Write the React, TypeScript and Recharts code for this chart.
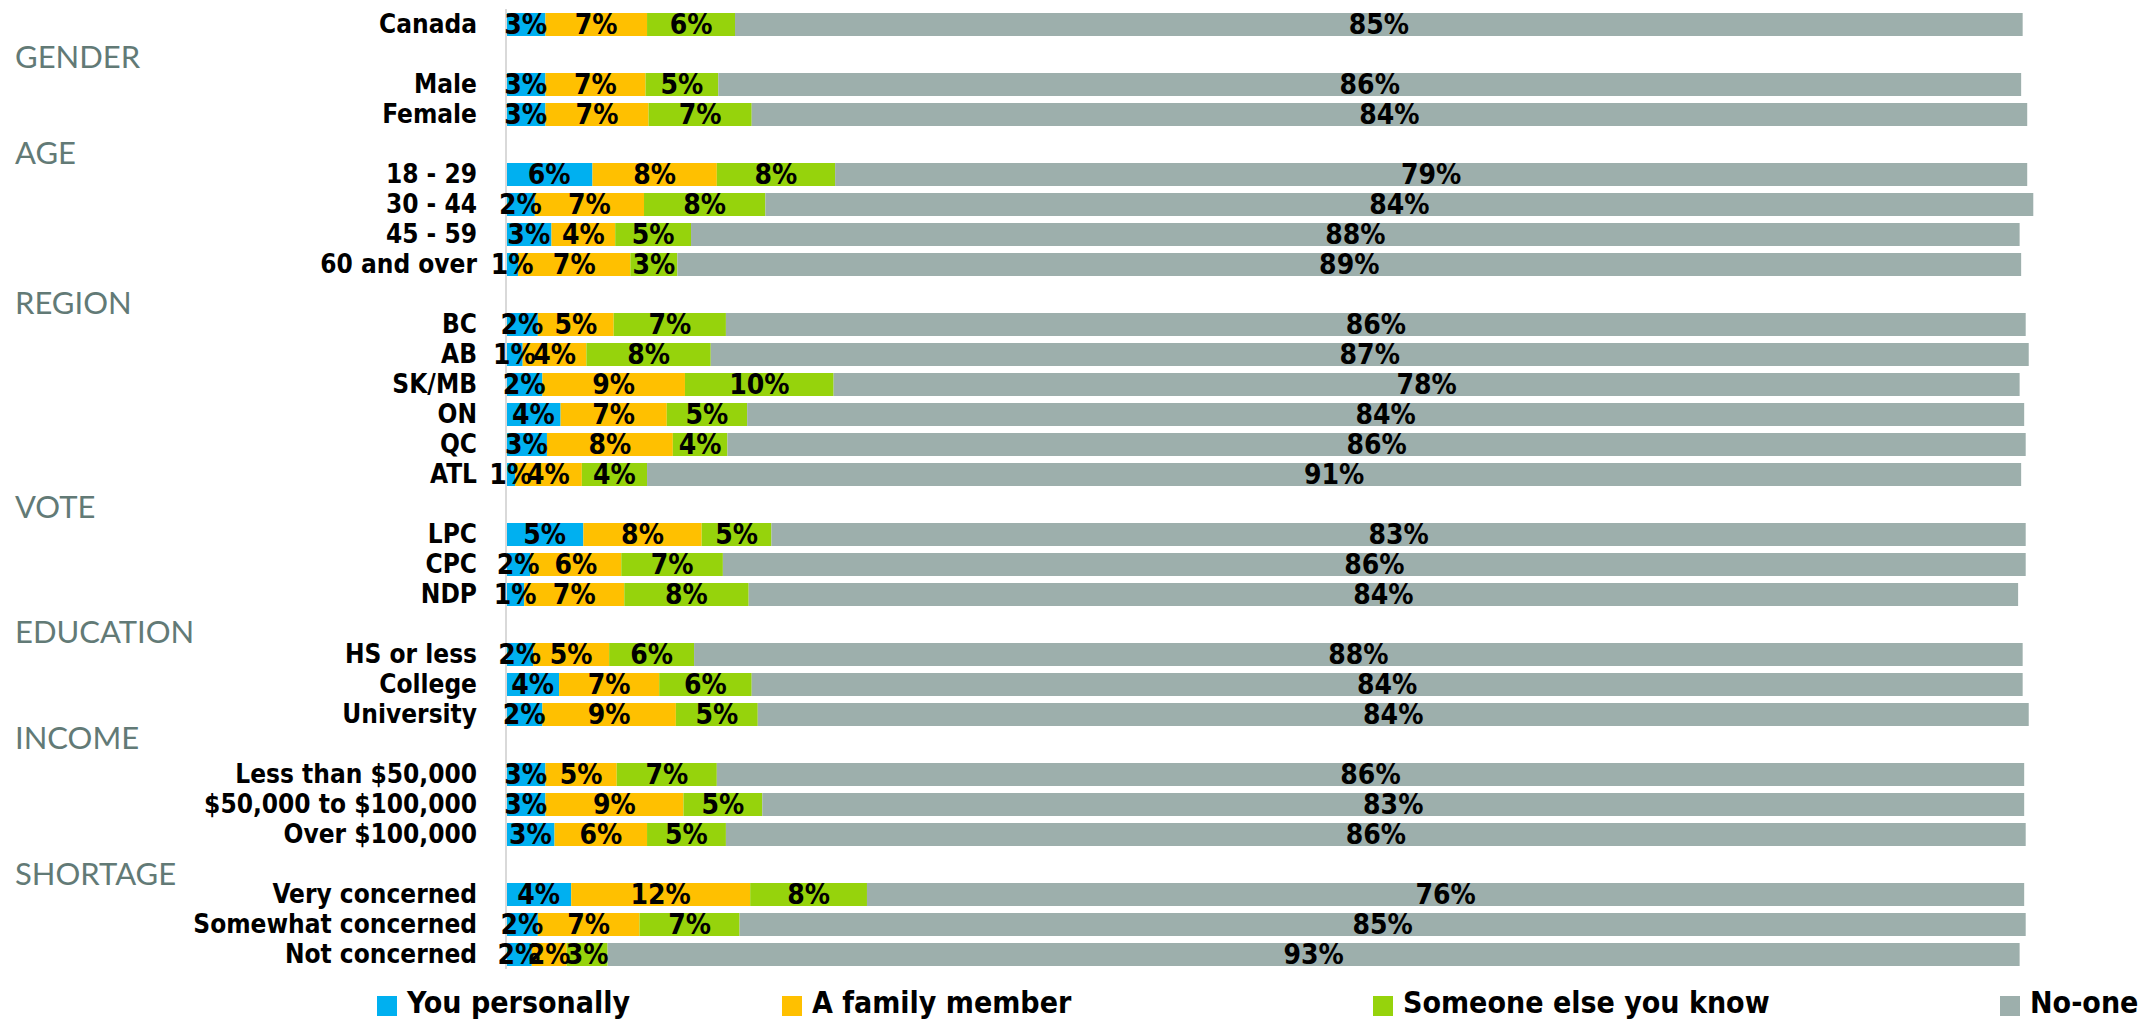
import React from 'react'
import { BarChart, Bar, XAxis, YAxis, LabelList } from 'recharts'

// rows of the chart, section headers are empty rows
const categories = [
  'Canada',
  'GENDER', 'Male', 'Female',
  'AGE', '18 - 29', '30 - 44', '45 - 59', '60 and over',
  'REGION', 'BC', 'AB', 'SK/MB', 'ON', 'QC', 'ATL',
  'VOTE', 'LPC', 'CPC', 'NDP',
  'EDUCATION', 'HS or less', 'College', 'University',
  'INCOME', 'Less than $50,000', '$50,000 to $100,000', 'Over $100,000',
  'SHORTAGE', 'Very concerned', 'Somewhat concerned', 'Not concerned',
]

const sectionHeaders = ['GENDER', 'AGE', 'REGION', 'VOTE', 'EDUCATION', 'INCOME', 'SHORTAGE']

const youPersonally = [
  2.6,
  null, 2.6, 2.6,
  null, 5.7, 1.9, 3.0, 0.8,
  null, 2.1, 1.1, 2.4, 3.6, 2.7, 0.6,
  null, 5.1, 1.6, 1.2,
  null, 1.8, 3.5, 2.4,
  null, 2.6, 2.6, 3.2,
  null, 4.3, 2.1, 1.7,
]

const familyMember = [
  6.7,
  null, 6.6, 6.8,
  null, 8.2, 7.2, 4.2, 7.4,
  null, 5.0, 4.2, 9.4, 7.0, 8.3, 4.4,
  null, 7.8, 6.0, 6.6,
  null, 5.0, 6.6, 8.8,
  null, 4.7, 9.1, 6.1,
  null, 11.8, 6.7, 2.3,
]

const someoneElse = [
  5.8,
  null, 4.8, 6.8,
  null, 7.8, 8.0, 5.0, 3.1,
  null, 7.4, 8.2, 9.8, 5.3, 3.6, 4.3,
  null, 4.6, 6.7, 8.2,
  null, 5.6, 6.1, 5.4,
  null, 6.6, 5.2, 5.2,
  null, 7.7, 6.6, 2.7,
]

const noOne = [
  84.9,
  null, 85.9, 84.1,
  null, 78.6, 83.6, 87.6, 88.6,
  null, 85.7, 86.9, 78.2, 84.2, 85.6, 90.6,
  null, 82.7, 85.9, 83.7,
  null, 87.6, 83.8, 83.8,
  null, 86.2, 83.2, 85.7,
  null, 76.3, 84.8, 93.1,
]

const seriesNames = ['You personally', 'A family member', 'Someone else you know', 'No-one']
const seriesKeys = ['you', 'family', 'someone', 'noone']
const seriesColors = ['#00B0F0', '#FFC000', '#96D30C', '#9DAFAC']

const chartData = categories.map((name, i) => ({
  name,
  you: youPersonally[i],
  family: familyMember[i],
  someone: someoneElse[i],
  noone: noOne[i],
}))

const boldFont = "'DejaVu Sans Condensed', 'DejaVu Sans', sans-serif"

// small vertical nudges so the section titles sit like in the original
const headerShift: Record<string, number> = {
  GENDER: 3, AGE: 9, REGION: 9, VOTE: 3, EDUCATION: 8, INCOME: -6, SHORTAGE: 10,
}

function CategoryTick(props: any) {
  const { y, payload } = props
  const label = payload.value
  if (sectionHeaders.includes(label)) {
    return (
      <text
        x={15}
        y={y + (headerShift[label] || 0)}
        dy="0.36em"
        textAnchor="start"
        fill="#627A76"
        fontFamily="Lato"
        fontSize={31}
      >
        {label}
      </text>
    )
  }
  return (
    <text
      x={477}
      y={y}
      dy="0.36em"
      textAnchor="end"
      fill="#000"
      fontFamily={boldFont}
      fontStretch="condensed"
      fontWeight="bold"
      fontSize={26}
    >
      {label}
    </text>
  )
}

const pct = (v: any) => (v == null ? '' : `${Math.round(v)}%`)

export default function App() {
  return (
    <div style={{ position: 'relative', width: 2144, height: 1024, background: '#fff' }}>
      <style>{'body { margin: 0; }'}</style>
      <BarChart
        width={2144}
        height={1024}
        data={chartData}
        layout="vertical"
        margin={{ top: 9, right: 91, bottom: 55, left: 0 }}
        barSize={23}
      >
        <XAxis type="number" domain={[0, 102]} hide allowDataOverflow />
        <YAxis
          type="category"
          dataKey="name"
          width={506}
          axisLine={{ stroke: '#D9D9D9', strokeWidth: 2 }}
          tickLine={false}
          interval={0}
          tick={<CategoryTick />}
        />
        {seriesKeys.map((key, i) => (
          <Bar
            key={key}
            dataKey={key}
            name={seriesNames[i]}
            stackId="a"
            fill={seriesColors[i]}
            isAnimationActive={false}
          >
            <LabelList
              dataKey={key}
              position="center"
              formatter={pct}
              fill="#000"
              fontFamily={boldFont}
              fontStretch="condensed"
              fontWeight="bold"
              fontSize={28}
            />
          </Bar>
        ))}
      </BarChart>
      {/* legend row */}
      {seriesNames.map((name, i) => (
        <div
          key={name}
          style={{
            position: 'absolute',
            left: [377, 782, 1373, 2000][i],
            top: 985,
            display: 'flex',
            alignItems: 'center',
            whiteSpace: 'nowrap',
          }}
        >
          <span style={{ width: 20, height: 20, background: seriesColors[i], marginRight: 10, marginTop: 6 }} />
          <span
            style={{
              fontFamily: boldFont,
              fontStretch: 'condensed',
              fontWeight: 'bold',
              fontSize: 30,
              color: '#000',
              lineHeight: '36px',
            }}
          >
            {name}
          </span>
        </div>
      ))}
    </div>
  )
}
